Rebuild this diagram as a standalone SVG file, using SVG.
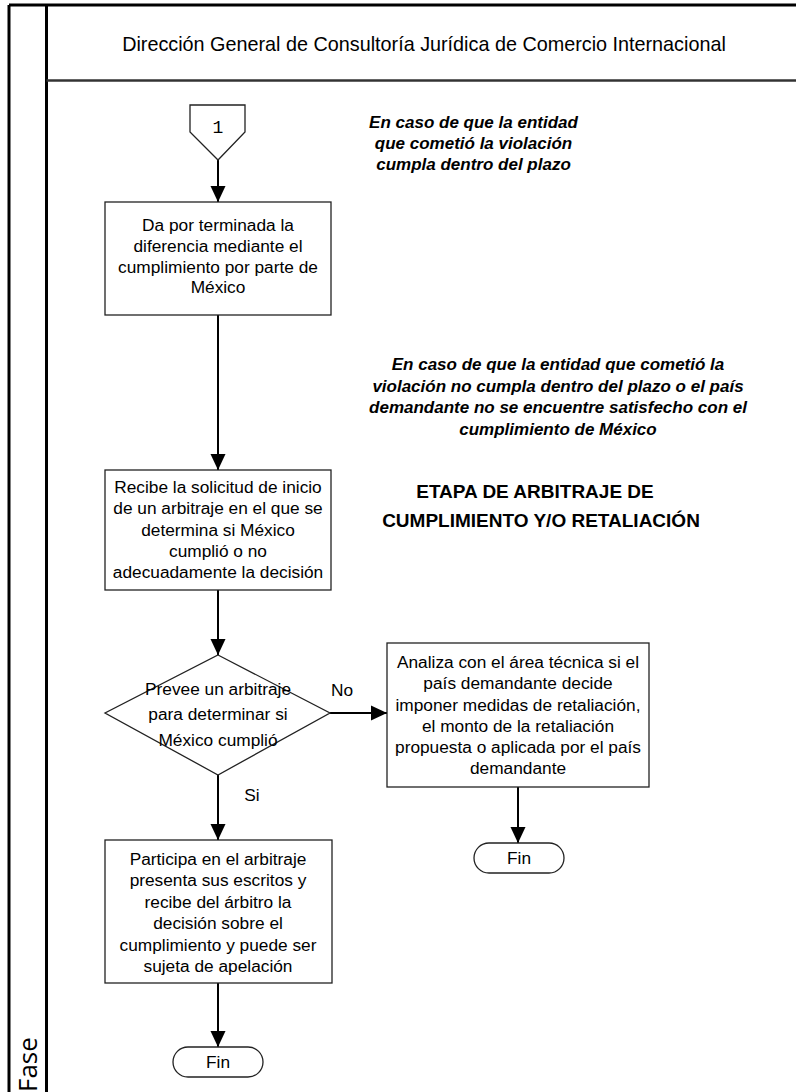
<svg xmlns="http://www.w3.org/2000/svg" width="796" height="1092" viewBox="0 0 796 1092">
<defs>
<marker id="ah" markerUnits="userSpaceOnUse" markerWidth="16" markerHeight="18" refX="17" refY="8" orient="auto" viewBox="0 0 17 16">
<path d="M0,0 L17,8 L0,16 Z" fill="#000"/>
</marker>
<style>
.frame{fill:none;stroke:#000;stroke-width:3}
.sep{fill:none;stroke:#333;stroke-width:2.5}
.box{fill:#fff;stroke:#222;stroke-width:1.3}
.conn{fill:none;stroke:#000;stroke-width:2}
.t{font-family:"Liberation Sans",Arial,sans-serif;font-size:17.3px;fill:#000;text-anchor:middle}
.note{font-family:"Liberation Sans",Arial,sans-serif;font-size:17px;font-weight:bold;font-style:italic;fill:#000;text-anchor:middle}
.stage{font-family:"Liberation Sans",Arial,sans-serif;font-size:19px;font-weight:bold;fill:#000;text-anchor:middle}
.title{font-family:"Liberation Sans",Arial,sans-serif;font-size:19.8px;fill:#000;text-anchor:middle}
.lane{font-family:"Open Sans","Noto Sans",sans-serif;font-size:26px;fill:#000}
.mono{font-family:"Liberation Mono",monospace;font-size:18px;fill:#000;text-anchor:middle}
</style>
</defs>
<rect width="796" height="1092" fill="#fff"/>
<g id="frame">
<line class="frame" x1="9" y1="5" x2="796" y2="5"/>
<line class="frame" x1="9" y1="5" x2="9" y2="1092"/>
<line class="frame" x1="46.5" y1="5" x2="46.5" y2="1092"/>
<line class="sep" x1="46.5" y1="80.5" x2="796" y2="80.5"/>
<text class="title" x="424" y="51">Dirección General de Consultoría Jurídica de Comercio Internacional</text>
<text class="lane" transform="translate(37,1092) rotate(-90)" x="0" y="0">Fase</text>
</g>
<g id="connectors">
<line class="conn" x1="218" y1="160" x2="218" y2="202" marker-end="url(#ah)"/>
<line class="conn" x1="218" y1="315" x2="218" y2="470" marker-end="url(#ah)"/>
<line class="conn" x1="218" y1="590" x2="218" y2="655" marker-end="url(#ah)"/>
<line class="conn" x1="330" y1="713" x2="387" y2="713" marker-end="url(#ah)"/>
<line class="conn" x1="218" y1="775" x2="218" y2="840" marker-end="url(#ah)"/>
<line class="conn" x1="218" y1="983" x2="218" y2="1047" marker-end="url(#ah)"/>
<line class="conn" x1="518" y1="787" x2="518" y2="843" marker-end="url(#ah)"/>
<text class="t" x="342" y="696">No</text>
<text class="t" x="252" y="801">Si</text>
</g>
<g id="offpage1">
<polygon class="box" points="190,105 245,105 245,132 218,160 190,132"/>
<text class="mono" x="218" y="133">1</text>
</g>
<g id="note1">
<text class="note" x="473.5" y="128">En caso de que la entidad</text>
<text class="note" x="473.5" y="149">que cometió la violación</text>
<text class="note" x="473.5" y="170">cumpla dentro del plazo</text>
</g>
<g id="box1">
<rect class="box" x="105" y="202" width="226" height="113"/>
<text class="t" x="218" y="231">Da por terminada la</text>
<text class="t" x="218" y="252">diferencia mediante el</text>
<text class="t" x="218" y="272.5">cumplimiento por parte de</text>
<text class="t" x="218" y="293">México</text>
</g>
<g id="note2">
<text class="note" x="558" y="370">En caso de que la entidad que cometió la</text>
<text class="note" x="558" y="391.7">violación no cumpla dentro del plazo o el país</text>
<text class="note" x="558" y="413.3">demandante no se encuentre satisfecho con el</text>
<text class="note" x="558" y="435">cumplimiento de México</text>
</g>
<g id="stage">
<text class="stage" x="535" y="498">ETAPA DE ARBITRAJE DE</text>
<text class="stage" x="541" y="527">CUMPLIMIENTO Y/O RETALIACIÓN</text>
</g>
<g id="box2">
<rect class="box" x="105" y="470" width="226" height="120"/>
<text class="t" x="218" y="493">Recibe la solicitud de inicio</text>
<text class="t" x="218" y="514">de un arbitraje en el que se</text>
<text class="t" x="218" y="535.5">determina si México</text>
<text class="t" x="218" y="557">cumplió o no</text>
<text class="t" x="218" y="578">adecuadamente la decisión</text>
</g>
<g id="decision">
<polygon class="box" points="218,655 330,713 218,775 105,713"/>
<text class="t" x="218" y="695">Prevee un arbitraje</text>
<text class="t" x="218" y="720">para determinar si</text>
<text class="t" x="218" y="746">México cumplió</text>
</g>
<g id="box4">
<rect class="box" x="387" y="643" width="262" height="144"/>
<text class="t" x="518" y="668">Analiza con el área técnica  si el</text>
<text class="t" x="518" y="689">país demandante decide</text>
<text class="t" x="518" y="711">imponer medidas de retaliación,</text>
<text class="t" x="518" y="732">el monto de la retaliación</text>
<text class="t" x="518" y="753">propuesta o aplicada por el país</text>
<text class="t" x="518" y="774">demandante</text>
</g>
<g id="fin2">
<rect class="box" x="474" y="843" width="90" height="30" rx="15"/>
<text class="t" x="519" y="864">Fin</text>
</g>
<g id="box3">
<rect class="box" x="105" y="840" width="227" height="143"/>
<text class="t" x="218" y="865">Participa en el arbitraje</text>
<text class="t" x="218" y="886.4">presenta sus escritos y</text>
<text class="t" x="218" y="907.8">recibe del árbitro la</text>
<text class="t" x="218" y="929.2">decisión sobre el</text>
<text class="t" x="218" y="950.6">cumplimiento y puede ser</text>
<text class="t" x="218" y="972">sujeta de apelación</text>
</g>
<g id="fin1">
<rect class="box" x="173" y="1047" width="90" height="30" rx="15"/>
<text class="t" x="218" y="1068">Fin</text>
</g>
</svg>
